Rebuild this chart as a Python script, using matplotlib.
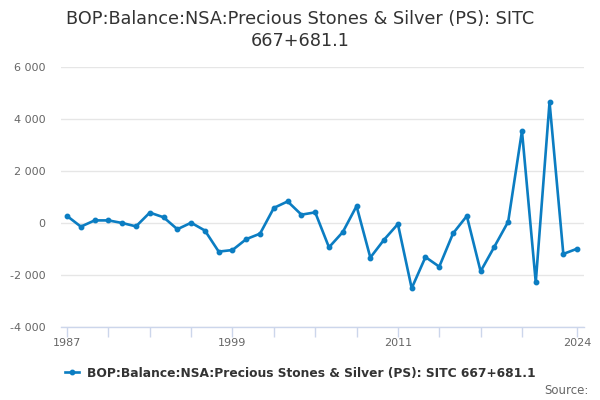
import matplotlib.pyplot as plt
import matplotlib.ticker as mticker

# Dữ liệu
years = list(range(1987, 2025))
balance = [270, -140, 100, 100, 0, -130, 400, 220, -240, 10,
           -290, -1100, -1040, -620, -410, 580, 830, 320, 410, -935,
           -350, 650, -1330, -640, -40, -2510, -1310, -1680, -400, 270,
           -1860, -910, 50, 3540, -2280, 4650, -1190, -990]
tick_years = [1987, 1990, 1993, 1996, 1999, 2002, 2005, 2008, 2011, 2014, 2017, 2020, 2024]
label_years = [1987, 1999, 2011, 2024]
y_ticks = [-4000, -2000, 0, 2000, 4000, 6000]

series_name = 'BOP:Balance:NSA:Precious Stones & Silver (PS): SITC 667+681.1'
title = 'BOP:Balance:NSA:Precious Stones & Silver (PS): SITC\n667+681.1'

line_color = '#0b7dc2'

fig = plt.figure(figsize=(6, 4), dpi=100)
ax = fig.add_axes([61 / 600, 1 - 327 / 400, 523 / 600, 260 / 400])

ax.plot(years, balance, color=line_color, linewidth=1.9, marker='o', markersize=3.2,
        label=series_name)

ax.set_xlim(1986.56, 2024.5)
ax.set_ylim(-4000, 6000)
ax.set_yticks(y_ticks)
ax.yaxis.set_major_formatter(mticker.FuncFormatter(lambda v, p: f'{int(v):,}'.replace(',', ' ')))
ax.set_xticks(tick_years)
ax.set_xticklabels([str(y) if y in label_years else '' for y in tick_years])

ax.grid(True, axis='y', color='#e6e6e6', linewidth=1)
ax.set_axisbelow(True)
for s in ['top', 'right', 'left']:
    ax.spines[s].set_visible(False)
ax.spines['bottom'].set_color('#ccd6eb')
ax.spines['bottom'].set_linewidth(1)

ax.tick_params(axis='y', length=0, pad=11, labelsize=8, labelcolor='#666666')
ax.tick_params(axis='x', length=7, width=1, color='#ccd6eb', pad=1, labelsize=8, labelcolor='#666666')

fig.text(0.5, 1 - 30 / 400, title, ha='center', va='center', fontsize=12.7, color='#333333',
         linespacing=1.35)

leg = fig.legend(loc='center', bbox_to_anchor=(0.5, 1 - 373 / 400), frameon=False,
                 prop={'size': 8.8, 'weight': 'bold'}, handlelength=1.2, handletextpad=0.6,
                 labelcolor='#333333')

fig.text(589 / 600, 1 - 391 / 400, 'Source:', ha='right', va='center', fontsize=8.5, color='#666666')

plt.savefig('out.png', dpi=100)
